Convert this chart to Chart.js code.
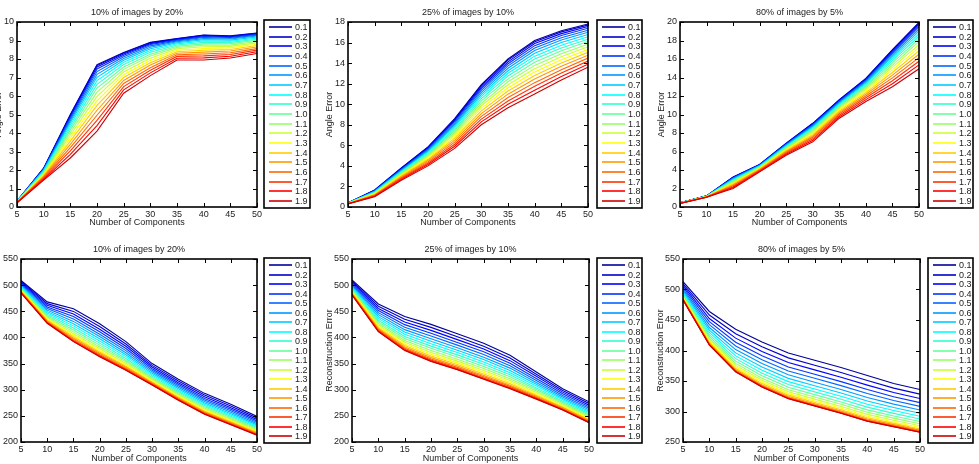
<!DOCTYPE html>
<html>
<head>
<meta charset="utf-8">
<script src="https://cdn.jsdelivr.net/npm/chart.js@4.4.1/dist/chart.umd.min.js"></script>
<style>
  html, body { margin: 0; padding: 0; background: #fff; }
  body { width: 979px; height: 464px; position: relative; overflow: hidden; }
  canvas { position: absolute; }
</style>
</head>
<body>
<script>
// x values and legend entries
const components = [5, 10, 15, 20, 25, 30, 35, 40, 45, 50];
const sigmaLabels = ['0.1', '0.2', '0.3', '0.4', '0.5', '0.6', '0.7', '0.8', '0.9', '1.0',
  '1.1', '1.2', '1.3', '1.4', '1.5', '1.6', '1.7', '1.8', '1.9'];
const titles = ['10% of images by 20%', '25% of images by 10%', '80% of images by 5%'];

// angle error, 10% of images by 20%
const angle10 = [
  [0.32, 2.10, 5.00, 7.70, 8.35, 8.90, 9.10, 9.30, 9.25, 9.40],
  [0.32, 2.09, 4.97, 7.65, 8.32, 8.88, 9.09, 9.28, 9.23, 9.39],
  [0.32, 2.08, 4.91, 7.57, 8.27, 8.83, 9.06, 9.25, 9.21, 9.36],
  [0.31, 2.06, 4.84, 7.46, 8.20, 8.78, 9.02, 9.21, 9.17, 9.33],
  [0.31, 2.03, 4.75, 7.32, 8.12, 8.71, 8.98, 9.16, 9.12, 9.29],
  [0.31, 2.01, 4.66, 7.17, 8.03, 8.64, 8.93, 9.10, 9.08, 9.24],
  [0.30, 1.98, 4.55, 7.01, 7.93, 8.55, 8.88, 9.04, 9.02, 9.19],
  [0.30, 1.94, 4.43, 6.83, 7.82, 8.46, 8.82, 8.97, 8.96, 9.13],
  [0.29, 1.91, 4.30, 6.63, 7.70, 8.37, 8.76, 8.90, 8.90, 9.07],
  [0.29, 1.87, 4.17, 6.43, 7.57, 8.26, 8.69, 8.82, 8.83, 9.01],
  [0.28, 1.83, 4.03, 6.21, 7.44, 8.16, 8.62, 8.74, 8.75, 8.95],
  [0.27, 1.79, 3.88, 5.98, 7.30, 8.04, 8.55, 8.66, 8.68, 8.87],
  [0.27, 1.75, 3.72, 5.74, 7.15, 7.92, 8.47, 8.57, 8.60, 8.80],
  [0.26, 1.70, 3.56, 5.49, 7.00, 7.80, 8.39, 8.47, 8.51, 8.73],
  [0.25, 1.65, 3.39, 5.23, 6.84, 7.67, 8.31, 8.37, 8.43, 8.65],
  [0.24, 1.61, 3.21, 4.96, 6.68, 7.53, 8.23, 8.27, 8.34, 8.56],
  [0.24, 1.56, 3.03, 4.68, 6.51, 7.39, 8.14, 8.17, 8.24, 8.48],
  [0.23, 1.50, 2.84, 4.40, 6.33, 7.25, 8.04, 8.06, 8.15, 8.39],
  [0.22, 1.45, 2.65, 4.10, 6.15, 7.10, 7.95, 7.95, 8.05, 8.30]
];

// angle error, 25% of images by 10%
const angle25 = [
  [0.40, 1.65, 3.80, 5.85, 8.60, 11.90, 14.40, 16.20, 17.15, 17.80],
  [0.40, 1.64, 3.77, 5.81, 8.53, 11.81, 14.29, 16.08, 17.04, 17.70],
  [0.39, 1.61, 3.73, 5.74, 8.43, 11.67, 14.12, 15.90, 16.87, 17.56],
  [0.39, 1.59, 3.68, 5.67, 8.32, 11.52, 13.94, 15.70, 16.68, 17.39],
  [0.39, 1.56, 3.63, 5.59, 8.19, 11.35, 13.73, 15.46, 16.47, 17.20],
  [0.38, 1.53, 3.57, 5.50, 8.05, 11.16, 13.50, 15.22, 16.24, 17.01],
  [0.38, 1.49, 3.51, 5.41, 7.90, 10.96, 13.26, 14.95, 16.00, 16.79],
  [0.37, 1.46, 3.45, 5.31, 7.75, 10.76, 13.01, 14.68, 15.74, 16.57],
  [0.37, 1.42, 3.38, 5.20, 7.59, 10.54, 12.74, 14.39, 15.48, 16.33],
  [0.36, 1.39, 3.31, 5.10, 7.42, 10.32, 12.47, 14.09, 15.20, 16.10],
  [0.35, 1.35, 3.24, 4.99, 7.25, 10.08, 12.19, 13.78, 14.91, 15.84],
  [0.35, 1.31, 3.17, 4.88, 7.07, 9.85, 11.90, 13.46, 14.62, 15.59],
  [0.34, 1.27, 3.09, 4.76, 6.89, 9.60, 11.60, 13.13, 14.32, 15.32],
  [0.33, 1.22, 3.01, 4.64, 6.70, 9.35, 11.29, 12.79, 14.01, 15.05],
  [0.33, 1.18, 2.94, 4.52, 6.51, 9.09, 10.98, 12.45, 13.69, 14.77],
  [0.32, 1.14, 2.85, 4.39, 6.31, 8.82, 10.65, 12.10, 13.36, 14.49],
  [0.31, 1.09, 2.77, 4.26, 6.11, 8.55, 10.32, 11.74, 13.03, 14.20],
  [0.31, 1.05, 2.69, 4.13, 5.91, 8.28, 9.99, 11.37, 12.70, 13.90],
  [0.30, 1.00, 2.60, 4.00, 5.70, 8.00, 9.65, 11.00, 12.35, 13.60]
];

// angle error, 80% of images by 5%
const angle80 = [
  [0.45, 1.20, 3.25, 4.60, 6.90, 9.05, 11.60, 13.90, 17.00, 19.95],
  [0.45, 1.20, 3.23, 4.59, 6.88, 9.02, 11.57, 13.87, 16.95, 19.89],
  [0.45, 1.19, 3.20, 4.57, 6.85, 8.98, 11.53, 13.81, 16.85, 19.77],
  [0.45, 1.19, 3.17, 4.55, 6.81, 8.91, 11.46, 13.73, 16.73, 19.61],
  [0.44, 1.18, 3.12, 4.52, 6.76, 8.84, 11.39, 13.64, 16.58, 19.43],
  [0.44, 1.18, 3.07, 4.48, 6.71, 8.76, 11.31, 13.54, 16.42, 19.22],
  [0.44, 1.17, 3.01, 4.45, 6.65, 8.66, 11.21, 13.42, 16.23, 18.99],
  [0.43, 1.16, 2.95, 4.41, 6.58, 8.56, 11.11, 13.29, 16.03, 18.74],
  [0.43, 1.16, 2.88, 4.36, 6.52, 8.46, 11.01, 13.16, 15.82, 18.47],
  [0.43, 1.15, 2.81, 4.32, 6.44, 8.34, 10.89, 13.02, 15.58, 18.18],
  [0.42, 1.14, 2.73, 4.27, 6.36, 8.22, 10.77, 12.87, 15.34, 17.88],
  [0.42, 1.13, 2.65, 4.22, 6.28, 8.09, 10.64, 12.71, 15.09, 17.56],
  [0.41, 1.12, 2.57, 4.17, 6.19, 7.96, 10.51, 12.54, 14.82, 17.23],
  [0.41, 1.11, 2.48, 4.11, 6.10, 7.82, 10.37, 12.37, 14.54, 16.88],
  [0.40, 1.10, 2.39, 4.05, 6.01, 7.68, 10.23, 12.19, 14.26, 16.52],
  [0.40, 1.09, 2.30, 3.99, 5.91, 7.53, 10.08, 12.00, 13.96, 16.15],
  [0.39, 1.07, 2.20, 3.93, 5.81, 7.37, 9.92, 11.81, 13.65, 15.76],
  [0.39, 1.06, 2.10, 3.87, 5.71, 7.21, 9.76, 11.61, 13.33, 15.36],
  [0.38, 1.05, 2.00, 3.80, 5.60, 7.05, 9.60, 11.40, 13.00, 14.95]
];

// reconstruction error, 10% of images by 20%
const recon10 = [
  [509, 468, 455, 426, 392, 350, 320, 293, 272, 249],
  [507, 464.6, 449.8, 420.8, 387.5, 346.6, 316.7, 289.7, 268.8, 246],
  [505.1, 461.4, 444.8, 415.8, 383.1, 343.4, 313.5, 286.5, 265.7, 243.2],
  [503.3, 458.2, 439.9, 410.9, 378.9, 340.2, 310.4, 283.4, 262.7, 240.4],
  [501.5, 455.1, 435.2, 406.2, 374.7, 337.1, 307.4, 280.4, 259.8, 237.7],
  [499.7, 452.2, 430.7, 401.7, 370.8, 334.2, 304.6, 277.6, 256.9, 235.1],
  [498.1, 449.3, 426.3, 397.3, 366.9, 331.3, 301.8, 274.8, 254.2, 232.6],
  [496.5, 446.6, 422.1, 393.1, 363.3, 328.6, 299.1, 272.1, 251.6, 230.2],
  [494.9, 444, 418.1, 389.1, 359.8, 326, 296.6, 269.6, 249.1, 227.9],
  [493.5, 441.5, 414.3, 385.3, 356.5, 323.5, 294.2, 267.2, 246.8, 225.7],
  [492.1, 439.1, 410.6, 381.6, 353.3, 321.1, 291.8, 264.8, 244.5, 223.7],
  [490.8, 436.9, 407.2, 378.2, 350.3, 318.9, 289.7, 262.7, 242.4, 221.7],
  [489.6, 434.9, 404.1, 375.1, 347.6, 316.9, 287.7, 260.7, 240.5, 219.9],
  [488.5, 433, 401.2, 372.2, 345, 315, 285.8, 258.8, 238.7, 218.3],
  [487.5, 431.3, 398.6, 369.6, 342.8, 313.3, 284.2, 257.2, 237.1, 216.8],
  [486.6, 429.8, 396.3, 367.3, 340.7, 311.8, 282.7, 255.7, 235.7, 215.4],
  [485.9, 428.5, 394.3, 365.3, 339, 310.5, 281.5, 254.5, 234.4, 214.3],
  [485.3, 427.5, 392.8, 363.8, 337.7, 309.5, 280.5, 253.5, 233.5, 213.5],
  [485, 427, 392, 363, 337, 309, 280, 253, 233, 213]
];

// reconstruction error, 25% of images by 10%
const recon25 = [
  [510, 464, 440, 425, 407, 389, 366, 334, 302, 277],
  [507.6, 459.7, 434.7, 419.2, 401.3, 383.3, 360.8, 329.7, 298.6, 273.7],
  [505.3, 455.4, 429.5, 413.5, 395.8, 377.8, 355.6, 325.6, 295.4, 270.5],
  [503.1, 451.3, 424.5, 408, 390.5, 372.5, 350.7, 321.6, 292.2, 267.4],
  [500.9, 447.4, 419.6, 402.7, 385.3, 367.3, 345.9, 317.7, 289.1, 264.4],
  [498.8, 443.5, 414.9, 397.6, 380.3, 362.3, 341.3, 313.9, 286.2, 261.6],
  [496.8, 439.8, 410.4, 392.6, 375.6, 357.6, 336.8, 310.3, 283.3, 258.8],
  [494.9, 436.3, 406.1, 387.9, 371, 353, 332.6, 306.9, 280.6, 256.1],
  [493, 432.9, 401.9, 383.4, 366.6, 348.6, 328.5, 303.5, 278, 253.6],
  [491.3, 429.8, 398, 379.1, 362.4, 344.4, 324.7, 300.4, 275.5, 251.2],
  [489.6, 426.7, 394.2, 375, 358.4, 340.4, 320.9, 297.4, 273.1, 248.8],
  [488, 423.8, 390.7, 371.2, 354.7, 336.7, 317.5, 294.6, 270.9, 246.7],
  [486.6, 421.2, 387.5, 367.7, 351.3, 333.3, 314.3, 292, 268.9, 244.7],
  [485.2, 418.7, 384.5, 364.4, 348.1, 330.1, 311.3, 289.6, 267, 242.8],
  [484, 416.6, 381.8, 361.4, 345.2, 327.2, 308.7, 287.5, 265.3, 241.2],
  [483, 414.6, 379.4, 358.8, 342.7, 324.7, 306.4, 285.5, 263.8, 239.7],
  [482.1, 413, 377.4, 356.6, 340.6, 322.6, 304.4, 283.9, 262.5, 238.5],
  [481.4, 411.7, 375.8, 354.9, 338.9, 320.9, 302.8, 282.7, 261.5, 237.5],
  [481, 411, 375, 354, 338, 320, 302, 282, 261, 237]
];

// reconstruction error, 80% of images by 5%
const recon80 = [
  [513, 464, 435, 414, 396, 384, 372, 359, 346, 336],
  [509.8, 458.1, 427.4, 406, 387.9, 375.9, 363.9, 350.9, 338.3, 328.4],
  [506.7, 452.4, 420.3, 398.5, 380.2, 368.2, 356.2, 343.2, 331.1, 321.3],
  [503.8, 447.2, 413.6, 391.4, 373, 361, 349, 336, 324.3, 314.6],
  [501.1, 442.3, 407.3, 384.8, 366.4, 354.4, 342.4, 329.4, 318, 308.3],
  [498.7, 437.7, 401.5, 378.6, 360.1, 348.1, 336.1, 323.1, 312.1, 302.5],
  [496.3, 433.4, 396.1, 372.9, 354.3, 342.3, 330.3, 317.3, 306.5, 297.1],
  [494.2, 429.6, 391.2, 367.7, 349, 337, 325, 312, 301.6, 292.2],
  [492.3, 426, 386.6, 362.9, 344.2, 332.2, 320.2, 307.2, 296.9, 287.6],
  [490.5, 422.7, 382.5, 358.5, 339.7, 327.7, 315.7, 302.7, 292.7, 283.5],
  [488.9, 419.9, 378.9, 354.7, 335.8, 323.8, 311.8, 298.8, 289.1, 279.9],
  [487.5, 417.3, 375.6, 351.2, 332.3, 320.3, 308.3, 295.3, 285.7, 276.6],
  [486.3, 415.1, 372.8, 348.2, 329.3, 317.3, 305.3, 292.3, 282.9, 273.8],
  [485.3, 413.2, 370.4, 345.7, 326.8, 314.8, 302.8, 289.8, 280.5, 271.4],
  [484.5, 411.7, 368.4, 343.6, 324.7, 312.7, 300.7, 287.7, 278.5, 269.4],
  [483.8, 410.5, 367, 342.1, 323.1, 311.1, 299.1, 286.1, 277, 268],
  [483.4, 409.7, 365.8, 340.9, 321.9, 309.9, 297.9, 284.9, 275.9, 266.8],
  [483.1, 409.2, 365.2, 340.2, 321.2, 309.2, 297.2, 284.2, 275.2, 266.2],
  [483, 409, 365, 340, 321, 309, 297, 284, 275, 266]
];

// matlab jet(19)
const jet19 = [
  '#000099', '#0000cc', '#0000ff', '#0033ff', '#0066ff', '#0099ff', '#00ccff',
  '#00ffff', '#33ffcc', '#66ff99', '#99ff66', '#ccff33', '#ffff00', '#ffcc00',
  '#ff9900', '#ff6600', '#ff3300', '#ff0000', '#cc0000'
];

const FONT = '"Liberation Sans", Arial, Helvetica, sans-serif';
const INK = '#222';
Chart.defaults.font.family = FONT;
Chart.defaults.font.size = 9;
Chart.defaults.color = INK;

// page layout: plot rectangle [left, top, right, bottom] and legend box
const AX = 40, TT = 20, BB = 26, RR = 62;
const panels = [
  { rows: angle10, title: titles[0], yTitle: 'Angle Error', yMin: 0, yMax: 10, yStep: 1,
    rect: [17, 22, 257, 207], legend: [264, 20, 310, 208], yGap: 18, xGap: 16 },
  { rows: angle25, title: titles[1], yTitle: 'Angle Error', yMin: 0, yMax: 18, yStep: 2,
    rect: [348, 22, 588, 207], legend: [597, 20, 642, 208], yGap: 18, xGap: 16 },
  { rows: angle80, title: titles[2], yTitle: 'Angle Error', yMin: 0, yMax: 20, yStep: 2,
    rect: [680, 22, 919, 207], legend: [928, 20, 973, 208], yGap: 18, xGap: 16 },
  { rows: recon10, title: titles[0], yTitle: 'Reconstruction Error', yMin: 200, yMax: 550, yStep: 50,
    rect: [21, 259, 257, 442], legend: [264, 258, 310, 443], yGap: 23, xGap: 17 },
  { rows: recon25, title: titles[1], yTitle: 'Reconstruction Error', yMin: 200, yMax: 550, yStep: 50,
    rect: [352, 259, 589, 442], legend: [597, 258, 642, 443], yGap: 22, xGap: 17 },
  { rows: recon80, title: titles[2], yTitle: 'Reconstruction Error', yMin: 250, yMax: 550, yStep: 50,
    rect: [683, 259, 920, 442], legend: [928, 258, 973, 443], yGap: 22, xGap: 17 }
];

// box, inward ticks on all sides, and the boxed legend
const matlabAxes = {
  id: 'matlabAxes',
  afterDatasetsDraw(chart) {
    const { ctx, chartArea: a, scales: { x, y } } = chart;
    ctx.save();
    ctx.strokeStyle = '#000';
    ctx.lineWidth = 1;
    ctx.beginPath();
    x.ticks.forEach(t => {
      const px = Math.round(x.getPixelForValue(t.value)) + 0.5;
      ctx.moveTo(px, a.bottom); ctx.lineTo(px, a.bottom - 4);
      ctx.moveTo(px, a.top); ctx.lineTo(px, a.top + 4);
    });
    y.ticks.forEach(t => {
      const py = Math.round(y.getPixelForValue(t.value)) + 0.5;
      ctx.moveTo(a.left, py); ctx.lineTo(a.left + 4, py);
      ctx.moveTo(a.right, py); ctx.lineTo(a.right - 4, py);
    });
    ctx.stroke();
    ctx.lineWidth = 1.6;
    ctx.strokeRect(a.left, a.top, a.right - a.left, a.bottom - a.top);
    ctx.restore();
  },
  afterDraw(chart, args, opts) {
    const { ctx } = chart;
    const [l, t, r, b] = opts.box;
    ctx.save();
    ctx.fillStyle = '#fff';
    ctx.fillRect(l, t, r - l, b - t);
    const n = chart.data.datasets.length;
    const step = (b - t - 14) / (n - 1);
    ctx.font = '9px ' + FONT;
    ctx.textBaseline = 'middle';
    ctx.textAlign = 'left';
    chart.data.datasets.forEach((ds, i) => {
      const yy = Math.round(t + 7 + i * step);
      ctx.strokeStyle = ds.borderColor;
      ctx.lineWidth = 1.6;
      ctx.beginPath();
      ctx.moveTo(l + 5, yy); ctx.lineTo(l + 28, yy);
      ctx.stroke();
      ctx.fillStyle = INK;
      ctx.fillText(ds.label, l + 31, yy + 0.5);
    });
    ctx.strokeStyle = '#000';
    ctx.lineWidth = 1.6;
    ctx.strokeRect(l, t, r - l, b - t);
    ctx.restore();
  }
};

panels.forEach(p => {
  const [l, t, r, b] = p.rect;
  const cx = l - AX, cy = t - TT;
  const cw = AX + (r - l) + RR, ch = TT + (b - t) + BB;
  const canvas = document.createElement('canvas');
  canvas.width = cw;
  canvas.height = ch;
  canvas.style.left = cx + 'px';
  canvas.style.top = cy + 'px';
  document.body.appendChild(canvas);

  const datasets = p.rows.map((row, k) => ({
    label: sigmaLabels[k],
    data: row.map((v, i) => ({ x: components[i], y: v })),
    borderColor: jet19[k],
    backgroundColor: jet19[k],
    borderWidth: 1.1,
    pointRadius: 0,
    tension: 0,
    fill: false,
    order: sigmaLabels.length - 1 - k
  }));

  new Chart(canvas, {
    type: 'line',
    data: { datasets },
    plugins: [matlabAxes],
    options: {
      responsive: false,
      animation: false,
      events: [],
      layout: { padding: { left: 0, top: 0, right: RR, bottom: 0 } },
      plugins: {
        legend: { display: false },
        tooltip: { enabled: false },
        title: {
          display: true,
          text: p.title,
          fullSize: false,
          color: INK,
          font: { size: 9, weight: 'normal' },
          padding: { top: TT - 14.4, bottom: 3.6 }
        },
        matlabAxes: { box: [p.legend[0] - cx, p.legend[1] - cy, p.legend[2] - cx, p.legend[3] - cy] }
      },
      scales: {
        x: {
          type: 'linear',
          min: 5,
          max: 50,
          grid: { display: false, drawTicks: false },
          border: { display: false },
          ticks: { stepSize: 5, padding: 2, maxRotation: 0, autoSkip: false, color: INK },
          title: {
            display: true,
            text: 'Number of Components',
            color: INK,
            padding: { top: 0, bottom: BB - 5.4 - p.xGap }
          },
          afterFit: s => { s.height = BB; }
        },
        y: {
          type: 'linear',
          min: p.yMin,
          max: p.yMax,
          grid: { display: false, drawTicks: false },
          border: { display: false },
          ticks: { stepSize: p.yStep, padding: 3, autoSkip: false, color: INK },
          title: {
            display: true,
            text: p.yTitle,
            color: INK,
            padding: { top: AX - p.yGap - 5.4, bottom: 0 }
          },
          afterFit: s => { s.width = AX; }
        }
      }
    }
  });
});
</script>
</body>
</html>
